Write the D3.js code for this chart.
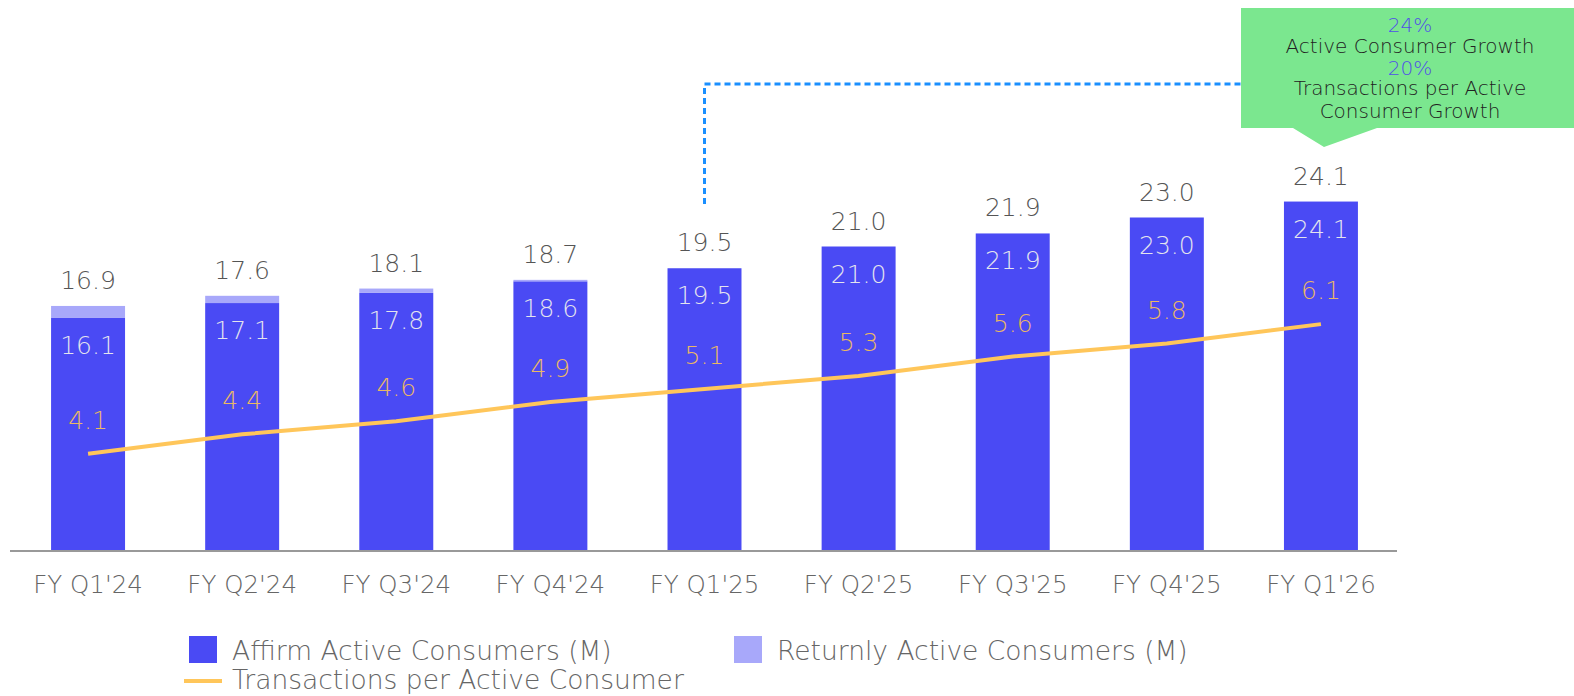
<!DOCTYPE html>
<html>
<head>
<meta charset="utf-8">
<script src="https://cdn.jsdelivr.net/npm/d3@7"></script>
<style>
  body { margin: 0; background: #fff; }
  svg { display: block; font-family: "DejaVu Sans", sans-serif; font-weight: 200; }
</style>
</head>
<body>
<svg id="chart" width="1574" height="696"></svg>
<script>
const quarters = ["FY Q1'24", "FY Q2'24", "FY Q3'24", "FY Q4'24", "FY Q1'25", "FY Q2'25", "FY Q3'25", "FY Q4'25", "FY Q1'26"];
const affirmConsumers = [16.1, 17.1, 17.8, 18.6, 19.5, 21.0, 21.9, 23.0, 24.1];
const returnlyConsumers = [0.8, 0.5, 0.3, 0.1, 0, 0, 0, 0, 0];
const totalConsumers = [16.9, 17.6, 18.1, 18.7, 19.5, 21.0, 21.9, 23.0, 24.1];
const txPerConsumer = [4.1, 4.4, 4.6, 4.9, 5.1, 5.3, 5.6, 5.8, 6.1];
const calloutLines = [
    { text: "24%", pct: true },
    { text: "Active Consumer Growth", pct: false },
    { text: "20%", pct: true },
    { text: "Transactions per Active", pct: false },
    { text: "Consumer Growth", pct: false }
];

const colors = { affirm: "#4a4af4", returnly: "#a8a8fa", line: "#ffc65a", lineLabel: "#eab865" };

const svg = d3.select("#chart");

const x = d3.scaleBand()
    .domain(quarters)
    .range([11, 1398])
    .paddingInner(0.52)
    .paddingOuter(0.26);

const y = d3.scaleLinear().domain([0, 38]).range([551, 0]);
const y2 = d3.scaleLinear().domain([2.6, 11.1]).range([551, 0]);

const data = quarters.map((q, i) => ({
    q,
    affirm: affirmConsumers[i],
    returnly: returnlyConsumers[i],
    total: totalConsumers[i],
    tx: txPerConsumer[i]
}));

// stacked bars
const bars = svg.append("g");
bars.selectAll(".affirm")
    .data(data)
    .join("rect")
    .attr("x", d => x(d.q))
    .attr("width", x.bandwidth())
    .attr("y", d => y(d.affirm))
    .attr("height", d => y(0) - y(d.affirm))
    .attr("fill", colors.affirm);

bars.selectAll(".returnly")
    .data(data.filter(d => d.returnly > 0))
    .join("rect")
    .attr("x", d => x(d.q))
    .attr("width", x.bandwidth())
    .attr("y", d => y(d.affirm + d.returnly))
    .attr("height", d => y(d.affirm) - y(d.affirm + d.returnly))
    .attr("fill", colors.returnly);

// x axis
const xAxis = svg.append("g")
    .attr("transform", `translate(0,${y(0)})`)
    .call(d3.axisBottom(x).tickSize(0).tickPadding(25));
xAxis.select(".domain").attr("stroke", "#999").attr("stroke-width", 2).attr("d", "M10,0H1397");
xAxis.selectAll("text")
    .attr("font-family", "DejaVu Sans")
    .attr("font-size", 24.5)
    .attr("font-weight", 200)
    .attr("fill", "#666");

// line
const line = d3.line()
    .x(d => x(d.q) + x.bandwidth() / 2)
    .y(d => y2(d.tx));

svg.append("path")
    .datum(data)
    .attr("d", line)
    .attr("fill", "none")
    .attr("stroke", colors.line)
    .attr("stroke-width", 4);

// labels
const labels = svg.append("g")
    .attr("text-anchor", "middle")
    .attr("font-size", 25);

labels.selectAll(".total")
    .data(data)
    .join("text")
    .attr("x", d => x(d.q) + x.bandwidth() / 2)
    .attr("y", d => y(d.total) - 17)
    .attr("fill", "#555")
    .text(d => d.total.toFixed(1));

labels.selectAll(".inner")
    .data(data)
    .join("text")
    .attr("x", d => x(d.q) + x.bandwidth() / 2)
    .attr("y", d => y(d.affirm) + 36)
    .attr("fill", "#e4e4ee")
    .text(d => d.affirm.toFixed(1));

labels.selectAll(".tx")
    .data(data)
    .join("text")
    .attr("x", d => x(d.q) + x.bandwidth() / 2)
    .attr("y", d => y2(d.tx) - 25)
    .attr("fill", colors.lineLabel)
    .text(d => d.tx.toFixed(1));

// dotted connector + callout
const cx = x("FY Q1'25") + x.bandwidth() / 2;
svg.append("path")
    .attr("d", `M${cx},204V84H1241`)
    .attr("fill", "none")
    .attr("stroke", "#1a8fff")
    .attr("stroke-width", 3)
    .attr("stroke-dasharray", "6,4");

svg.append("path")
    .attr("d", "M1241,8H1574V128H1377L1324,147L1293,128H1241Z")
    .attr("fill", "#7be78f");

svg.append("g")
    .attr("text-anchor", "middle")
    .attr("font-size", 20)
    .selectAll("text")
    .data(calloutLines)
    .join("text")
    .attr("x", 1410)
    .attr("y", (d, i) => [32, 53, 75, 95, 118][i])
    .attr("fill", d => d.pct ? "#5050e6" : "#222")
    .text(d => d.text);

// legend
const legendItems = [
    { label: "Affirm Active Consumers (M)", type: "rect", color: colors.affirm, x: 189, y: 650 },
    { label: "Returnly Active Consumers (M)", type: "rect", color: colors.returnly, x: 734, y: 650 },
    { label: "Transactions per Active Consumer", type: "line", color: colors.line, x: 184, y: 681 }
];
const legend = svg.append("g").selectAll("g")
    .data(legendItems)
    .join("g")
    .attr("transform", d => `translate(${d.x},${d.y})`);

legend.filter(d => d.type === "rect").append("rect")
    .attr("x", 0).attr("y", -14).attr("width", 28).attr("height", 27)
    .attr("fill", d => d.color);
legend.filter(d => d.type === "line").append("line")
    .attr("x1", 0).attr("x2", 38).attr("y1", 0).attr("y2", 0)
    .attr("stroke", d => d.color).attr("stroke-width", 4);

legend.append("text")
    .attr("x", d => d.type === "rect" ? 43 : 48)
    .attr("y", d => d.type === "rect" ? 10 : 8)
    .attr("font-size", 26.5)
    .attr("fill", "#666")
    .text(d => d.label);
</script>
</body>
</html>
